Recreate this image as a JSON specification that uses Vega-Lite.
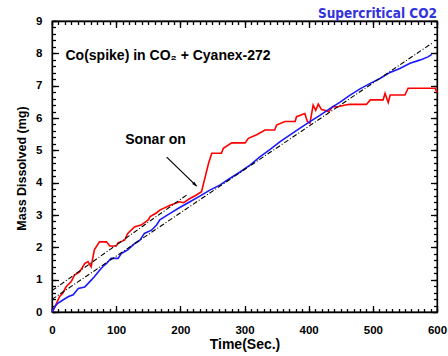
{
  "$schema": "https://vega.github.io/schema/vega-lite/v6.json",
  "width": 385,
  "height": 291,
  "autosize": {"type": "none"},
  "padding": {"left": 52, "top": 21, "right": 11, "bottom": 44},
  "background": "white",
  "title": {
    "text": "Supercritical CO2",
    "anchor": "end",
    "frame": "group",
    "offset": -5,
    "font": "Liberation Sans Narrow, DejaVu Sans Condensed, sans-serif",
    "fontSize": 13.5,
    "fontWeight": "bold",
    "color": "#3333dd"
  },
  "config": {
    "view": {"stroke": "black", "strokeWidth": 1.3},
    "axis": {
      "grid": false,
      "domainColor": "black",
      "tickColor": "black",
      "domainWidth": 1.3,
      "tickWidth": 1.3,
      "labelFont": "Liberation Sans",
      "labelFontWeight": "bold",
      "labelFontSize": 11.5,
      "labelColor": "black",
      "titleFont": "Liberation Sans",
      "titleFontWeight": "bold",
      "titleFontSize": 14,
      "titleColor": "black",
      "labelFlush": false,
      "labelOverlap": false
    }
  },
  "datasets": {
    "red": [
      {"t": 0, "v": 0}, {"t": 3, "v": 0.1}, {"t": 12, "v": 0.48}, {"t": 17, "v": 0.59}, {"t": 22, "v": 0.78},
      {"t": 30, "v": 0.94}, {"t": 35, "v": 1.14}, {"t": 43, "v": 1.24}, {"t": 51, "v": 1.5}, {"t": 56, "v": 1.56},
      {"t": 61, "v": 1.4}, {"t": 66, "v": 1.92}, {"t": 74, "v": 2.17}, {"t": 85, "v": 2.17}, {"t": 90, "v": 2.04},
      {"t": 100, "v": 2.04}, {"t": 103, "v": 2.14}, {"t": 113, "v": 2.22}, {"t": 118, "v": 2.43}, {"t": 129, "v": 2.64},
      {"t": 139, "v": 2.69}, {"t": 150, "v": 2.85}, {"t": 153, "v": 2.95}, {"t": 163, "v": 3.07}, {"t": 168, "v": 3.15},
      {"t": 184, "v": 3.3}, {"t": 199, "v": 3.41}, {"t": 205, "v": 3.38}, {"t": 215, "v": 3.51}, {"t": 225, "v": 3.62},
      {"t": 233, "v": 3.72}, {"t": 244, "v": 4.6}, {"t": 249, "v": 4.91}, {"t": 264, "v": 4.91}, {"t": 267, "v": 5.06},
      {"t": 280, "v": 5.23}, {"t": 301, "v": 5.23}, {"t": 306, "v": 5.37}, {"t": 319, "v": 5.48}, {"t": 332, "v": 5.63},
      {"t": 347, "v": 5.63}, {"t": 350, "v": 5.78}, {"t": 363, "v": 5.89}, {"t": 379, "v": 5.89}, {"t": 381, "v": 6.04},
      {"t": 394, "v": 6.14}, {"t": 398, "v": 5.89}, {"t": 402, "v": 5.84}, {"t": 407, "v": 6.4}, {"t": 411, "v": 6.24},
      {"t": 415, "v": 6.43}, {"t": 420, "v": 6.26}, {"t": 425, "v": 6.24}, {"t": 431, "v": 6.19}, {"t": 438, "v": 6.36},
      {"t": 444, "v": 6.34}, {"t": 457, "v": 6.4}, {"t": 464, "v": 6.42}, {"t": 490, "v": 6.42}, {"t": 496, "v": 6.56},
      {"t": 516, "v": 6.56}, {"t": 519, "v": 6.76}, {"t": 524, "v": 6.48}, {"t": 527, "v": 6.71}, {"t": 550, "v": 6.71},
      {"t": 555, "v": 6.92}, {"t": 597, "v": 6.92}, {"t": 600, "v": 6.79}
    ],
    "blue": [
      {"t": 0, "v": 0}, {"t": 5, "v": 0.18}, {"t": 9, "v": 0.27}, {"t": 17, "v": 0.37}, {"t": 25, "v": 0.47},
      {"t": 33, "v": 0.53}, {"t": 41, "v": 0.73}, {"t": 51, "v": 0.77}, {"t": 59, "v": 0.94}, {"t": 66, "v": 1.09},
      {"t": 72, "v": 1.24}, {"t": 79, "v": 1.4}, {"t": 85, "v": 1.5}, {"t": 92, "v": 1.66}, {"t": 103, "v": 1.66},
      {"t": 108, "v": 1.81}, {"t": 118, "v": 1.92}, {"t": 129, "v": 2.12}, {"t": 137, "v": 2.22}, {"t": 144, "v": 2.43},
      {"t": 155, "v": 2.53}, {"t": 163, "v": 2.69}, {"t": 168, "v": 2.85}, {"t": 184, "v": 3.05}, {"t": 199, "v": 3.23},
      {"t": 215, "v": 3.41}, {"t": 231, "v": 3.59}, {"t": 246, "v": 3.77}, {"t": 262, "v": 3.93}, {"t": 277, "v": 4.13},
      {"t": 293, "v": 4.33}, {"t": 309, "v": 4.55}, {"t": 324, "v": 4.8}, {"t": 340, "v": 5.03}, {"t": 355, "v": 5.26},
      {"t": 371, "v": 5.48}, {"t": 386, "v": 5.68}, {"t": 402, "v": 5.89}, {"t": 418, "v": 6.09}, {"t": 433, "v": 6.29},
      {"t": 449, "v": 6.49}, {"t": 464, "v": 6.7}, {"t": 480, "v": 6.9}, {"t": 496, "v": 7.07}, {"t": 511, "v": 7.22},
      {"t": 527, "v": 7.41}, {"t": 542, "v": 7.53}, {"t": 558, "v": 7.69}, {"t": 573, "v": 7.79}, {"t": 586, "v": 7.89},
      {"t": 592, "v": 7.97}
    ],
    "fits": [
      {"id": "a", "t": 0, "v": 0.66}, {"id": "a", "t": 210, "v": 3.62},
      {"id": "b", "t": 0, "v": 0.39}, {"id": "b", "t": 592, "v": 8.31}
    ],
    "notes": [
      {"t": 180.8, "v": 7.92, "label": "Co(spike) in CO₂ + Cyanex-272"},
      {"t": 161.3, "v": 5.32, "label": "Sonar on"}
    ],
    "arrow": [
      {"t1": 178.7, "v1": 4.79, "t2": 225, "v2": 3.9, "tt": 226.5, "vt": 3.87}
    ]
  },
  "layer": [
    {
      "data": {"name": "red"},
      "mark": {"type": "line", "color": "#ff0000", "strokeWidth": 1.6},
      "encoding": {
        "x": {"field": "t", "type": "quantitative", "scale": {"domain": [0, 600], "nice": false},
          "axis": {"orient": "bottom", "values": [0,10,20,30,40,50,60,70,80,90,100,110,120,130,140,150,160,170,180,190,200,210,220,230,240,250,260,270,280,290,300,310,320,330,340,350,360,370,380,390,400,410,420,430,440,450,460,470,480,490,500,510,520,530,540,550,560,570,580,590,600],
            "labelExpr": "datum.value % 100 === 0 ? format(datum.value, 'd') : ''",
            "tickSize": -3.5, "labelPadding": 15.5,
            "title": "Time(Sec.)", "titleX": 192.5, "titleY": 32, "titleBaseline": "middle", "titleAlign": "center"}},
        "y": {"field": "v", "type": "quantitative", "scale": {"domain": [0, 9], "nice": false},
          "axis": {"orient": "left", "values": [0,0.2,0.4,0.6,0.8,1,1.2,1.4,1.6,1.8,2,2.2,2.4,2.6,2.8,3,3.2,3.4,3.6,3.8,4,4.2,4.4,4.6,4.8,5,5.2,5.4,5.6,5.8,6,6.2,6.4,6.6,6.8,7,7.2,7.4,7.6,7.8,8,8.2,8.4,8.6,8.8,9],
            "labelExpr": "datum.value % 1 === 0 ? format(datum.value, 'd') : ''",
            "tickSize": -3.5, "labelPadding": 13.5,
            "title": "Mass Dissolved (mg)", "titleFontSize": 12.5, "titleX": -31, "titleY": 147, "titleBaseline": "middle", "titleAlign": "center"}}
      }
    },
    {
      "data": {"name": "blue"},
      "mark": {"type": "line", "color": "#1a1aff", "strokeWidth": 1.6},
      "encoding": {
        "x": {"field": "t", "type": "quantitative",
          "axis": {"orient": "top", "values": [0,10,20,30,40,50,60,70,80,90,100,110,120,130,140,150,160,170,180,190,200,210,220,230,240,250,260,270,280,290,300,310,320,330,340,350,360,370,380,390,400,410,420,430,440,450,460,470,480,490,500,510,520,530,540,550,560,570,580,590,600],
            "tickSize": -3.5, "labels": false, "domain": true, "title": null}},
        "y": {"field": "v", "type": "quantitative",
          "axis": {"orient": "right", "values": [0,0.2,0.4,0.6,0.8,1,1.2,1.4,1.6,1.8,2,2.2,2.4,2.6,2.8,3,3.2,3.4,3.6,3.8,4,4.2,4.4,4.6,4.8,5,5.2,5.4,5.6,5.8,6,6.2,6.4,6.6,6.8,7,7.2,7.4,7.6,7.8,8,8.2,8.4,8.6,8.8,9],
            "tickSize": -3.5, "labels": false, "domain": true, "title": null}}
      }
    },
    {
      "data": {"name": "fits"},
      "mark": {"type": "line", "color": "black", "strokeWidth": 1.1, "strokeDash": [5, 2, 1, 2]},
      "encoding": {
        "detail": {"field": "id"},
        "x": {"field": "t", "type": "quantitative",
          "axis": {"orient": "bottom", "values": [0, 100, 200, 300, 400, 500, 600], "tickSize": -6.5, "labels": false, "domain": false, "title": null}},
        "y": {"field": "v", "type": "quantitative",
          "axis": {"orient": "left", "values": [0, 1, 2, 3, 4, 5, 6, 7, 8, 9], "tickSize": -6.5, "labels": false, "domain": false, "title": null}}
      }
    },
    {
      "data": {"name": "notes"},
      "mark": {"type": "text", "font": "Liberation Sans", "fontWeight": "bold", "fontSize": 14, "align": "center", "baseline": "middle", "color": "black"},
      "encoding": {
        "text": {"field": "label"},
        "x": {"field": "t", "type": "quantitative",
          "axis": {"orient": "top", "values": [0, 100, 200, 300, 400, 500, 600], "tickSize": -6.5, "labels": false, "domain": false, "title": null}},
        "y": {"field": "v", "type": "quantitative",
          "axis": {"orient": "right", "values": [0, 1, 2, 3, 4, 5, 6, 7, 8, 9], "tickSize": -6.5, "labels": false, "domain": false, "title": null}}
      }
    },
    {
      "data": {"name": "arrow"},
      "mark": {"type": "rule", "color": "black", "strokeWidth": 1.2},
      "encoding": {
        "x": {"field": "t1", "type": "quantitative", "axis": null},
        "y": {"field": "v1", "type": "quantitative", "axis": null},
        "x2": {"field": "t2"},
        "y2": {"field": "v2"}
      }
    },
    {
      "data": {"name": "arrow"},
      "mark": {"type": "point", "shape": "M0,0L0.45,1.6L-0.45,1.6Z", "angle": 134, "size": 50, "filled": true, "color": "black", "opacity": 1, "strokeWidth": 0},
      "encoding": {
        "x": {"field": "tt", "type": "quantitative", "axis": null},
        "y": {"field": "vt", "type": "quantitative", "axis": null}
      }
    }
  ],
  "resolve": {"axis": {"x": "independent", "y": "independent"}}
}
